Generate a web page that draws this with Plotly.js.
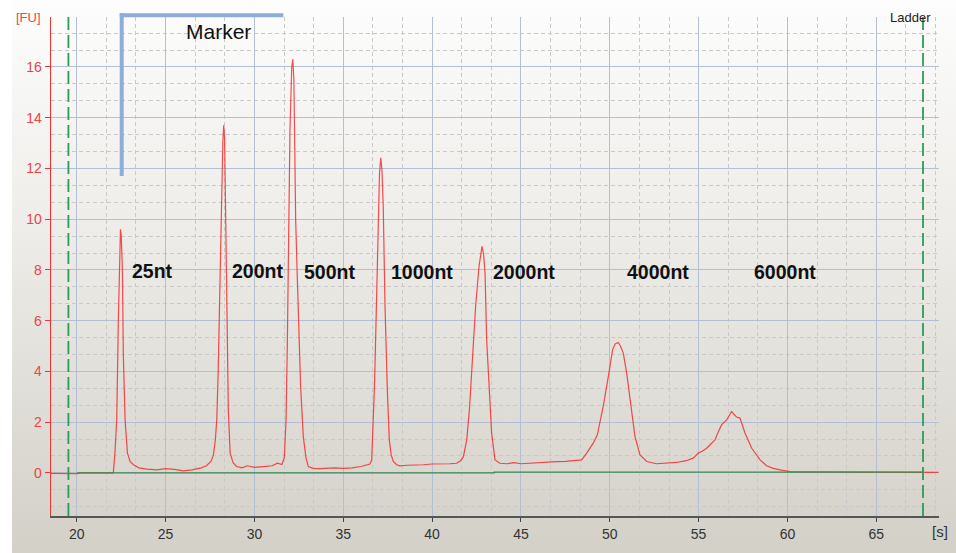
<!DOCTYPE html>
<html>
<head>
<meta charset="utf-8">
<script src="https://cdn.plot.ly/plotly-3.0.1.min.js"></script>
<style>
  html, body { margin: 0; padding: 0; background: #ffffff; }
  #chart {
    width: 956px; height: 553px;
    background:
      linear-gradient(to right, #ffffff 0px, #ffffff 12px, rgba(255,255,255,0) 12px),
      linear-gradient(to bottom, #fdfdfd 0%, #eeede9 40%, #d3d0c8 100%);
  }
</style>
</head>
<body>
<div id="chart"></div>
<script>
// ---- Data (time [s], fluorescence [FU]) ----
var traceTime = [
  18.55, 19.2, 19.5, 20.0, 20.3, 21.0, 21.8, 22.06, 22.15, 22.25,
  22.34, 22.42, 22.46, 22.5, 22.57, 22.62, 22.72, 22.85, 23.0, 23.19,
  23.5, 23.94, 24.5, 25.0, 25.5, 26.0, 26.5, 27.0, 27.3, 27.55,
  27.69, 27.8, 27.88, 27.96, 28.03, 28.12, 28.22, 28.27, 28.32, 28.38,
  28.45, 28.53, 28.63, 28.8, 29.0, 29.3, 29.6, 30.0, 30.5, 31.0,
  31.3, 31.55, 31.68, 31.78, 31.85, 31.9, 32.0, 32.1, 32.16, 32.22,
  32.32, 32.4, 32.47, 32.6, 32.75, 32.9, 33.03, 33.3, 33.7, 34.5,
  35.0, 35.5, 36.0, 36.3, 36.5, 36.6, 36.69, 36.76, 36.82, 36.94,
  37.04, 37.11, 37.18, 37.25, 37.35, 37.48, 37.59, 37.7, 37.82, 38.0,
  38.19, 38.6, 39.0, 39.5, 40.0, 40.5, 41.0, 41.38, 41.6, 41.76,
  41.95, 42.1, 42.23, 42.45, 42.64, 42.75, 42.81, 42.9, 42.98, 43.07,
  43.22, 43.35, 43.54, 43.82, 44.2, 44.6, 45.0, 45.5, 46.0, 46.5,
  47.0, 47.5, 48.0, 48.42, 48.7, 49.07, 49.3, 49.63, 49.92, 50.16,
  50.3, 50.48, 50.6, 50.76, 50.95, 51.18, 51.42, 51.7, 52.08, 52.64,
  53.2, 53.76, 54.3, 54.7, 54.98, 55.2, 55.45, 55.92, 56.1, 56.3,
  56.58, 56.75, 56.86, 57.0, 57.14, 57.33, 57.61, 57.99, 58.46, 58.83,
  59.2, 59.58, 60.14, 60.8, 61.45, 62.5, 64.0, 66.0, 68.5
];
var traceFU = [
  -0.02, -0.03, -0.02, -0.03, 0, 0, 0, 0, 0.8, 2.1,
  6.0, 9.0, 9.6, 9.4, 8.0, 4.7, 2.1, 0.79, 0.45, 0.32,
  0.2, 0.15, 0.12, 0.17, 0.14, 0.08, 0.12, 0.2, 0.28, 0.45,
  0.7, 1.3, 2.1, 4.0, 6.0, 9.5, 13.0, 13.7, 13.2, 10.5,
  6.0, 2.5, 0.79, 0.4, 0.25, 0.2, 0.28, 0.22, 0.25, 0.28,
  0.38, 0.33, 0.6, 2.1, 5.0, 8.6, 13.5, 16.0, 16.3, 15.5,
  10.0, 8.0, 6.0, 3.4, 1.43, 0.6, 0.25, 0.18, 0.17, 0.2,
  0.18, 0.2, 0.25, 0.3, 0.35, 0.51, 1.96, 3.5, 5.25, 9.2,
  11.8, 12.42, 11.9, 10.5, 6.57, 3.28, 1.3, 0.7, 0.45, 0.32,
  0.28, 0.3, 0.3, 0.32, 0.35, 0.35, 0.36, 0.38, 0.48, 0.64,
  1.3, 2.5, 3.94, 6.57, 8.14, 8.75, 8.93, 8.6, 7.88, 5.25,
  3.28, 1.57, 0.51, 0.38, 0.36, 0.4, 0.36, 0.38, 0.42, 0.42,
  0.44, 0.45, 0.47, 0.51, 0.78, 1.17, 1.5, 2.62, 3.8, 4.86,
  5.08, 5.14, 5.0, 4.72, 3.94, 2.75, 1.43, 0.71, 0.45, 0.36,
  0.38, 0.41, 0.48, 0.58, 0.78, 0.85, 0.97, 1.3, 1.6, 1.9,
  2.09, 2.3, 2.42, 2.3, 2.2, 2.16, 1.57, 0.97, 0.51, 0.28,
  0.18, 0.12, 0.05, 0.04, 0.04, 0.02, 0.02, 0.02, 0.02
];

// Baseline (green) and analysis window limits
var baselineTime = [20.0, 43.5, 43.5, 67.63];
var baselineFU   = [0, 0, 0.03, 0.03];
var windowLimits = [19.53, 67.63];

// Marker bracket (x start/end, lower FU level)
var markerTimes = [22.53, 31.63];
var markerLow = 11.7;

// Peak labels
var peakLabels = ['25nt', '200nt', '500nt', '1000nt', '2000nt', '4000nt', '6000nt'];
var labelTimes = [23.0, 28.63, 32.66, 37.59, 43.31, 50.86, 57.99];
var labelFU    = [7.97, 7.95, 7.93, 7.9, 7.9, 7.9, 7.9];

var yTicks = [0, 2, 4, 6, 8, 10, 12, 14, 16];
var xTicks = [20, 25, 30, 35, 40, 45, 50, 55, 60, 65];

// ---- Build figure ----
var traces = [
  {
    x: traceTime, y: traceFU, type: 'scatter', mode: 'lines',
    line: { color: 'rgba(245,45,45,0.85)', width: 1.2 },
    hoverinfo: 'skip', showlegend: false
  },
  {
    x: baselineTime, y: baselineFU, type: 'scatter', mode: 'lines',
    line: { color: '#3d8a4f', width: 1.3, shape: 'hv' },
    hoverinfo: 'skip', showlegend: false
  }
];

var shapes = [];
windowLimits.forEach(function (t) {
  shapes.push({
    type: 'line', xref: 'x', yref: 'paper', x0: t, x1: t, y0: 0, y1: 1,
    line: { color: '#2f9a55', width: 1.8, dash: '13px,5px' }
  });
});
var yRange = [-1.7, 17.97];
var lowPaper = (markerLow - yRange[0]) / (yRange[1] - yRange[0]);
shapes.push({
  type: 'line', xref: 'x', yref: 'paper',
  x0: markerTimes[0], x1: markerTimes[0], y0: lowPaper, y1: 1.0074,
  line: { color: '#8fadd8', width: 4 }
});
shapes.push({
  type: 'line', xref: 'x', yref: 'paper',
  x0: markerTimes[0] - 0.11, x1: markerTimes[1], y0: 1.0034, y1: 1.0034,
  line: { color: '#8fadd8', width: 4 }
});

var labelFont = { family: '"Liberation Sans", Arial, sans-serif', size: 19.5, color: '#111111', weight: 'bold' };
var annotations = peakLabels.map(function (txt, i) {
  return {
    x: labelTimes[i], y: labelFU[i], xref: 'x', yref: 'y', text: txt,
    showarrow: false, xanchor: 'left', yanchor: 'middle', font: labelFont
  };
});
annotations.push({
  x: 27.95, y: 17.41, xref: 'x', yref: 'y', text: 'Marker', showarrow: false,
  xanchor: 'center', yanchor: 'middle',
  font: { family: '"Liberation Sans", Arial, sans-serif', size: 21, color: '#111111' }
});
annotations.push({
  x: 0.993, y: 1.0, xref: 'paper', yref: 'paper', text: 'Ladder', showarrow: false,
  xanchor: 'right', yanchor: 'middle',
  font: { family: '"Liberation Sans", Arial, sans-serif', size: 13, color: '#222222' }
});
annotations.push({
  x: -0.0093, y: 1.0, xref: 'paper', yref: 'paper', text: '[FU]', showarrow: false,
  xanchor: 'right', yanchor: 'middle',
  font: { family: '"Liberation Sans", Arial, sans-serif', size: 13, color: '#ee4444' }
});
annotations.push({
  x: 0.99, y: -0.032, xref: 'paper', yref: 'paper', text: '[s]', showarrow: false,
  xanchor: 'left', yanchor: 'middle',
  font: { family: '"Liberation Sans", Arial, sans-serif', size: 15, color: '#333333' }
});

var layout = {
  width: 956, height: 553,
  margin: { l: 51, r: 17, t: 17, b: 37, pad: 0 },
  paper_bgcolor: 'rgba(0,0,0,0)',
  plot_bgcolor: 'rgba(0,0,0,0)',
  showlegend: false,
  xaxis: {
    range: [18.55, 68.53],
    tickmode: 'array', tickvals: xTicks,
    ticks: 'outside', ticklen: 4, tickcolor: '#444444', tickwidth: 1,
    showline: true, linecolor: '#555555', linewidth: 2,
    showgrid: true, gridcolor: '#b3bfd2', gridwidth: 1,
    zeroline: false,
    tickfont: { family: '"Liberation Sans", Arial, sans-serif', size: 14, color: '#333333' },
    minor: { dtick: 5 / 3, tick0: 20, showgrid: true, gridcolor: '#c9c9c9', griddash: '4px,3px', gridwidth: 1, ticks: '' },
    fixedrange: true
  },
  yaxis: {
    range: yRange,
    tickmode: 'array', tickvals: yTicks,
    ticks: 'outside', ticklen: 5, tickcolor: '#ee3333', tickwidth: 1,
    showline: true, linecolor: '#ee3333', linewidth: 1.3,
    showgrid: true, gridcolor: '#b3bfd2', gridwidth: 1,
    zeroline: false,
    tickfont: { family: '"Liberation Sans", Arial, sans-serif', size: 14, color: '#ee4444' },
    minor: { dtick: 2 / 3, tick0: 0, showgrid: true, gridcolor: '#c9c9c9', griddash: '4px,3px', gridwidth: 1, ticks: '' },
    fixedrange: true
  },
  shapes: shapes,
  annotations: annotations
};

Plotly.newPlot('chart', traces, layout, { displayModeBar: false, staticPlot: true });
</script>
</body>
</html>
